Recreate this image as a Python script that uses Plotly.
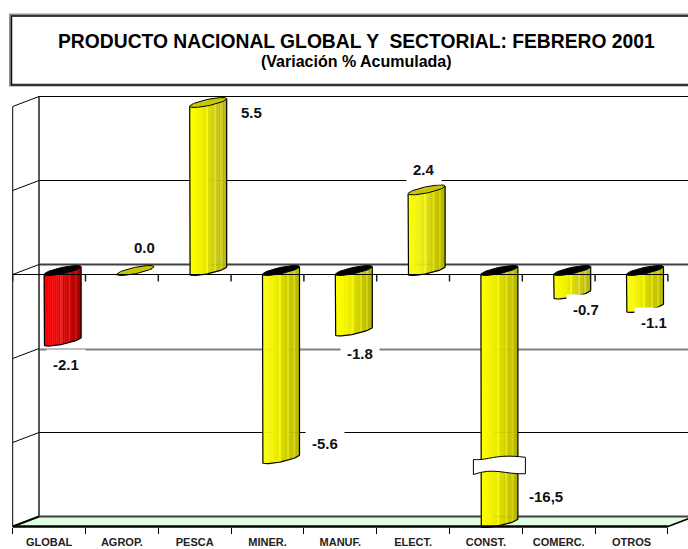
import numpy as np
import plotly.graph_objects as go

categories = ["GLOBAL", "AGROP.", "PESCA", "MINER.", "MANUF.", "ELECT.", "CONST.", "COMERC.", "OTROS"]
# values as drawn (the chart's axis truncates PESCA and CONST.)
drawn_values = [-2.1, 0.0, 5.0, -5.6, -1.8, 2.4, -7.5, -0.7, -1.1]
value_labels = ["-2.1", "0.0", "5.5", "-5.6", "-1.8", "2.4", "-16,5", "-0.7", "-1.1"]
grid_values = [-7.5, -5.0, -2.5, 0.0, 2.5, 5.0]

TITLE = "PRODUCTO NACIONAL GLOBAL Y  SECTORIAL: FEBRERO 2001"
SUBTITLE = "(Variación % Acumulada)"

W, H = 688, 549
PX_X, PX_Y = 72.8, 33.6          # px per category / per value unit
X0, Y0 = 49.1, 274.5             # px of category 0 / value 0
xr = [(0 - X0) / PX_X, (W - X0) / PX_X]
yr = [(Y0 - H) / PX_Y, Y0 / PX_Y]
DX, DY = 26.3 / PX_X, 10.0 / PX_Y   # full-depth offset of the back wall

# label placement, px
label_px = [(66, 364), (144, 247), (251, 112), (325, 443), (360, 353),
            (424, 170), (546, 496), (586, 309), (654, 322)]

def px(x): return x / W
def py(y): return 1 - y / H

# cylinder geometry
BAR_DX = 13.5 / PX_X
BAR_DY = 4.0 / PX_Y
A = 18.5 / PX_X
TILT = 3.8 / PX_Y
B = 3.2 / PX_Y
N = 18
stops_y = np.array([[255, 255, 0], [240, 240, 0], [205, 205, 0], [180, 180, 0]])
stops_r = np.array([[255, 0, 0], [240, 0, 0], [205, 0, 0], [160, 0, 0]])
light_strips = {8: 22, 12: 22, 15: 22}

def strip_color(stops, k):
    f = k / (N - 1) * (len(stops) - 1)
    i = min(int(f), len(stops) - 2)
    c = stops[i] + (stops[i + 1] - stops[i]) * (f - i)
    c = np.clip(c + light_strips.get(k, 0), 0, 255)
    return f"rgb({int(c[0])},{int(c[1])},{int(c[2])})"

fig = go.Figure()

# strips of the cylinders
for k in range(N):
    t = -1 + (2 * k + 1) / N
    curve = TILT * t - B * np.sqrt(1 - t * t)
    xs, bases, heights, cols = [], [], [], []
    for i, v in enumerate(drawn_values):
        xs.append(i + BAR_DX + t * A)
        if v < 0:
            lo, hi = v + BAR_DY + curve, BAR_DY + TILT * t
        else:
            lo, hi = BAR_DY + curve, v + BAR_DY + TILT * t
        bases.append(lo)
        heights.append(hi - lo)
        cols.append(strip_color(stops_r if i == 0 else stops_y, k))
    fig.add_trace(go.Bar(x=xs, y=heights, base=bases, width=2 * A / N * 1.15,
                         marker=dict(color=cols, line=dict(width=0)),
                         hoverinfo="skip", showlegend=False))

# outlines and caps
th = np.linspace(0, 2 * np.pi, 61)
front = np.linspace(np.pi, 0, 31)
for i, v in enumerate(drawn_values):
    cx = i + BAR_DX
    if v != 0:
        lo, hi = min(v, 0) + BAR_DY, max(v, 0) + BAR_DY
        ox = [cx - A] + list(cx + A * np.cos(front)) + [cx + A]
        oy = [hi - TILT] + list(lo + TILT * np.cos(front) - B * np.sin(front)) + [hi + TILT]
        fig.add_trace(go.Scatter(x=ox, y=oy, mode="lines", line=dict(color="black", width=1.2),
                                 hoverinfo="skip", showlegend=False))
    end = v + BAR_DY if v >= 0 else BAR_DY
    ex = cx + A * np.cos(th)
    ey = end + TILT * np.cos(th) + B * np.sin(th)
    fig.add_trace(go.Scatter(x=ex, y=ey, mode="lines", fill="toself",
                             fillcolor="#c8c800" if v >= 0 else "black",
                             line=dict(color="black", width=1),
                             hoverinfo="skip", showlegend=False))

shapes = []
def line(x0, y0, x1, y1, color="black", width=1, layer="below"):
    shapes.append(dict(type="line", xref="x", yref="y", x0=x0, y0=y0, x1=x1, y1=y1,
                       line=dict(color=color, width=width), layer=layer))

L, R = -0.5, len(categories) - 0.5
bottom, top = grid_values[0], grid_values[-1]

# floor
shapes.append(dict(type="path", xref="x", yref="y", layer="below", line=dict(width=0),
                   fillcolor="#e0ffe0",
                   path=f"M{L},{bottom} L{R},{bottom} L{R+DX},{bottom+DY} L{L+DX},{bottom+DY} Z"))
# wall grid lines and side wall
for g in grid_values:
    is_grey = g == -2.5
    color = "#808080" if is_grey else ("#404040" if g in (0.0, bottom) else "black")
    width = 2 if (is_grey or g in (0.0, bottom)) else 1
    shift = -1 / PX_Y if is_grey else 0
    line(L + DX, g + DY + shift, R + DX, g + DY + shift, color, width)
    line(L, g, L + DX, g + DY, "black", 2 if g == bottom else 1)
line(L, bottom, L, top, "black", 1)
line(L + DX, bottom + DY, L + DX, top + DY, "#202020", 1.5)
line(R, bottom, R + DX, bottom + DY, "black", 1.5)
# front zero line, front floor edge and zero-line ticks
line(L, 0, R, 0, "black", 1, "above")
line(L, bottom, R, bottom, "black", 2.5, "above")
for b in np.arange(L, R + 0.5):
    line(b, 0, b, -7 / PX_Y, "#202020", 1.5)

# break mark on CONST.
bi = categories.index("CONST.")
bx = bi + BAR_DX
by = -5.73
w = 26 / PX_X
h = 15 / PX_Y
def pt(fx, fy):
    return f"{bx + fx * w},{by + fy * h}"
shapes.append(dict(type="path", xref="x", yref="y", layer="above",
                   fillcolor="white", line=dict(color="black", width=1),
                   path=("M" + pt(-1, 0.5) + " C" + pt(-0.4, 0.42) + " " + pt(-0.2, 0.9) + " " + pt(1, 0.65)
                         + " L" + pt(1, -0.45) + " C" + pt(0.2, -0.5) + " " + pt(-0.2, 0.0) + " " + pt(-1, -0.5)
                         + " Z")))

# title box (runs off the right edge of the picture)
shapes.append(dict(type="rect", xref="paper", yref="paper", x0=px(10.5), x1=px(700),
                   y0=py(85), y1=py(15), line=dict(color="#909090", width=3), fillcolor="white", layer="below"))
shapes.append(dict(type="rect", xref="paper", yref="paper", x0=px(11.5), x1=px(700),
                   y0=py(85), y1=py(16), line=dict(color="#101010", width=1.5), layer="below"))

FONT = "Liberation Sans, Arial, sans-serif"
def text(s, x, y, size, color="black", **kw):
    return dict(text=f"<b>{s}</b>", xref="paper", yref="paper", x=px(x), y=py(y),
                xanchor="center", yanchor="middle", showarrow=False,
                font=dict(family=FONT, size=size, color=color), **kw)

ann = [text(TITLE, 356, 42, 19.3), text(SUBTITLE, 356, 62, 16)]
for (lx, ly), s in zip(label_px, value_labels):
    ann.append(text(s, lx, ly, 15, "#111111", bgcolor="white", borderpad=6))

fig.update_layout(
    width=W, height=H, margin=dict(l=0, r=0, t=0, b=0, pad=0, autoexpand=False),
    paper_bgcolor="white", plot_bgcolor="white", barmode="overlay", showlegend=False,
    shapes=shapes, annotations=ann,
    xaxis=dict(range=xr, domain=[0, 1], anchor="free", position=(H - 527) / H, automargin=False,
               tickmode="array", tickvals=list(range(len(categories))),
               ticktext=[f"<b>{c}</b>" for c in categories],
               ticks="", showgrid=False, zeroline=False, showline=False,
               tickfont=dict(family=FONT, size=11, color="#222222"),
               minor=dict(tickmode="array", tickvals=list(np.arange(L, R + 0.5)), ticks="outside",
                          ticklen=6, tickcolor="black", tickwidth=1, showgrid=False),
               ticklabelstandoff=7),
    yaxis=dict(range=yr, domain=[0, 1], visible=False, showgrid=False, zeroline=False),
)
fig.write_html("out.html", post_script="document.body.style.margin='0';",
               config={"displayModeBar": False})
